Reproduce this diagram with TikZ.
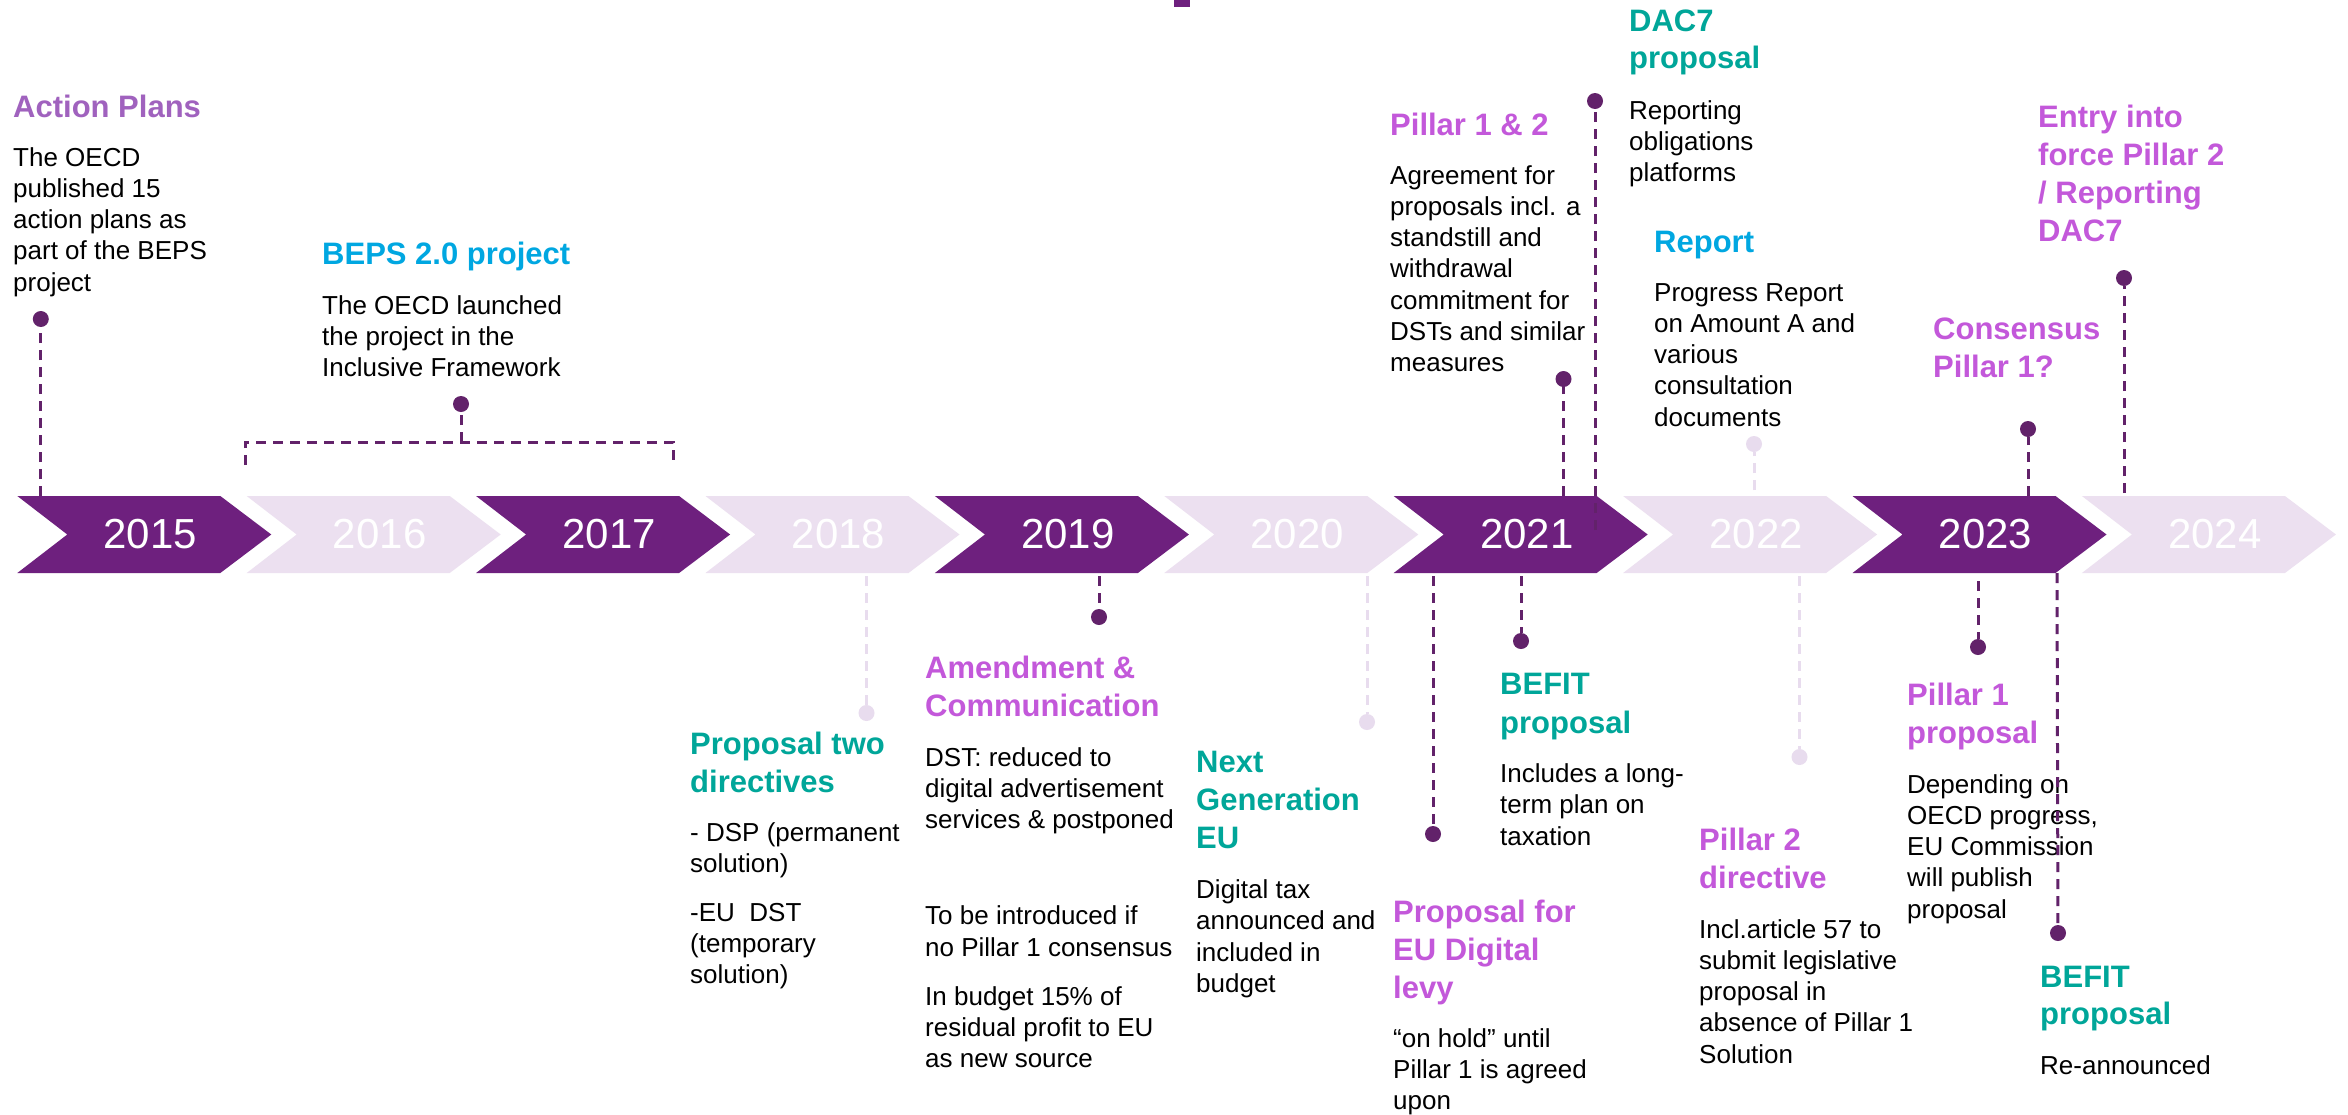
\documentclass[tikz,border=0pt]{standalone}
\usepackage{fontspec}
\setmainfont{Liberation Sans}

\definecolor{chevdark}{RGB}{110,32,126}
\definecolor{chevlight}{RGB}{236,224,240}
\definecolor{pindark}{RGB}{98,34,106}
\definecolor{pinlight}{RGB}{232,220,238}
\definecolor{hlpurple}{RGB}{195,88,218}
\definecolor{mutedpurple}{RGB}{160,98,190}
\definecolor{tealhead}{RGB}{0,166,153}
\definecolor{bluehead}{RGB}{0,167,225}

\newcommand{\headfont}{\fontsize{31}{38}\selectfont\bfseries}
\newcommand{\bodyfont}{\fontsize{26}{31.3}\selectfont}
\newcommand{\yearfont}{\fontsize{42}{48}\selectfont}
% a left-aligned stack of lines whose baseline is the first line
\newcommand{\textlines}[1]{\begin{tabular}[t]{@{}l@{}}#1\end{tabular}}

\tikzset{
  head/.style={anchor=base west, inner sep=0pt, font=\headfont},
  body/.style={anchor=base west, inner sep=0pt, font=\bodyfont, text=black},
  yearlbl/.style={inner sep=0pt, font=\yearfont, text=white},
  pindot/.style={circle, fill=pindark, inner sep=0pt, minimum size=16pt},
  pindotlight/.style={circle, fill=pinlight, inner sep=0pt, minimum size=16pt},
  dashline/.style={draw=pindark, line width=3pt, dash pattern=on 10pt off 7pt},
  dashlinelight/.style={draw=pinlight, line width=3pt, dash pattern=on 10pt off 7pt},
}

\begin{document}
\begin{tikzpicture}[x=1pt,y=-1pt]
\useasboundingbox (0,0) rectangle (2348,1114);
\fill[white] (0,0) rectangle (2348,1114);

% small mark at the top edge
\fill[chevdark] (1174,0) rectangle (1190,6.5);

% year chevrons
\foreach \i/\yr/\shade in {0/2015/chevdark,1/2016/chevlight,2/2017/chevdark,3/2018/chevlight,4/2019/chevdark,5/2020/chevlight,6/2021/chevdark,7/2022/chevlight,8/2023/chevdark,9/2024/chevlight}{
  \pgfmathsetmacro\xo{17.3+229.4*\i}
  \fill[\shade] (\xo,496) -- ++(203,0) -- ++(51,38.5) -- ++(-51,38.5) -- ++(-203,0) -- ++(50,-38.5) -- cycle;
  \node[yearlbl] (y\yr) at (\xo+133,534.5) {\yr};
}

% ---------- events above the timeline ----------
\node[head, text=mutedpurple] (hAP) at (13,117) {Action Plans};
\node[body] (bAP) at (13,166) {\textlines{The OECD\\published 15\\action plans as\\part of the BEPS\\project}};

\node[head, text=bluehead] (hBEPS) at (322,264) {BEPS 2.0 project};
\node[body] (bBEPS) at (322,314) {\textlines{The OECD launched\\the project in the\\Inclusive Framework}};

\node[head, text=hlpurple] (hP12) at (1390,135) {Pillar 1 \& 2};
\node[body] (bP12) at (1390,184) {\textlines{Agreement for\\proposals incl. a\\standstill and\\withdrawal\\commitment for\\DSTs and similar\\measures}};

\node[head, text=tealhead, font=\fontsize{31}{37}\selectfont\bfseries] (hDAC) at (1629,31.4) {\textlines{DAC7\\proposal}};
\node[body] (bDAC) at (1629,119) {\textlines{Reporting\\obligations\\platforms}};

\node[head, text=bluehead] (hRep) at (1654,252) {Report};
\node[body] (bRep) at (1654,301) {\textlines{Progress Report\\on Amount A and\\various\\consultation\\documents}};

\node[head, text=hlpurple] (hEntry) at (2038,127) {\textlines{Entry into\\force Pillar 2\\/ Reporting\\DAC7}};

\node[head, text=hlpurple] (hCons) at (1933,339) {\textlines{Consensus\\Pillar 1?}};

% ---------- events below the timeline ----------
\node[head, text=tealhead] (hDir) at (690,754) {\textlines{Proposal two\\directives}};
\node[body] (bDir) at (690,841) {\textlines{- DSP (permanent\\solution)\\[17.7pt]-EU~ DST\\(temporary\\solution)}};

\node[head, text=hlpurple] (hAm) at (925,678) {\textlines{Amendment \&\\Communication}};
\node[body] (bAm) at (925,766) {\textlines{DST: reduced to\\digital advertisement\\services \& postponed\\[65pt]To be introduced if\\no Pillar 1 consensus\\[17.7pt]In budget 15\% of\\residual profit to EU\\as new source}};

\node[head, text=tealhead] (hNG) at (1196,772) {\textlines{Next\\Generation\\EU}};
\node[body] (bNG) at (1196,898.5) {\textlines{Digital tax\\announced and\\included in\\budget}};

\node[head, text=hlpurple] (hLevy) at (1393,922) {\textlines{Proposal for\\EU Digital\\levy}};
\node[body] (bLevy) at (1393,1047) {\textlines{“on hold” until\\Pillar 1 is agreed\\upon}};

\node[head, text=tealhead, font=\fontsize{31}{39}\selectfont\bfseries] (hBF1) at (1500,694) {\textlines{BEFIT\\proposal}};
\node[body] (bBF1) at (1500,782.5) {\textlines{Includes a long-\\term plan on\\taxation}};

\node[head, text=hlpurple] (hP2) at (1699,850) {\textlines{Pillar 2\\directive}};
\node[body] (bP2) at (1699,938) {\textlines{Incl.article 57 to\\submit legislative\\proposal in\\absence of Pillar 1\\Solution}};

\node[head, text=hlpurple] (hP1) at (1907,705) {\textlines{Pillar 1\\proposal}};
\node[body] (bP1) at (1907,793) {\textlines{Depending on\\OECD progress,\\EU Commission\\will publish\\proposal}};

\node[head, text=tealhead, font=\fontsize{31}{37}\selectfont\bfseries] (hBF2) at (2040,987.5) {\textlines{BEFIT\\proposal}};
\node[body] (bBF2) at (2040,1074) {Re-announced};

% ---------- pins and connectors ----------
% above
\node[pindot] (pAP) at (40.8,319) {};
\coordinate (tAP) at (40.8,496);
\draw[dashline] (tAP) -- (pAP);

\node[pindot] (pBEPS) at (461,404) {};
\coordinate (jBEPS) at (461,442);
\coordinate (lBEPS) at (245,465);
\coordinate (rBEPS) at (673,465);
\draw[dashline] (jBEPS) -- (pBEPS);
\draw[dashline] (lBEPS) |- (jBEPS) -| (rBEPS);

\node[pindot] (pP12) at (1563.5,379) {};
\coordinate (tP12) at (1563.5,496);
\draw[dashline] (tP12) -- (pP12);

\node[pindot] (pDAC) at (1595,101) {};
\coordinate (tDAC) at (1595,530);
\draw[dashline] (tDAC) -- (pDAC);

\node[pindotlight] (pRep) at (1754,444) {};
\coordinate (tRep) at (1754,490);
\draw[dashlinelight] (tRep) -- (pRep);

\node[pindot] (pCons) at (2028,429) {};
\coordinate (tCons) at (2028,496);
\draw[dashline] (tCons) -- (pCons);

\node[pindot] (pEntry) at (2124,278) {};
\coordinate (tEntry) at (2124,493);
\draw[dashline] (tEntry) -- (pEntry);

% below
\node[pindotlight] (pDir) at (866.5,713) {};
\coordinate (tDir) at (866.5,576);
\draw[dashlinelight] (tDir) -- (pDir);

\node[pindot] (pAm) at (1099,617) {};
\coordinate (tAm) at (1099,576);
\draw[dashline] (tAm) -- (pAm);

\node[pindotlight] (pNG) at (1367,722) {};
\coordinate (tNG) at (1367,576);
\draw[dashlinelight] (tNG) -- (pNG);

\node[pindot] (pLevy) at (1433,834) {};
\coordinate (tLevy) at (1433,576);
\draw[dashline] (tLevy) -- (pLevy);

\node[pindot] (pBF1) at (1521,641) {};
\coordinate (tBF1) at (1521,576);
\draw[dashline] (tBF1) -- (pBF1);

\node[pindotlight] (pP2) at (1799.5,757) {};
\coordinate (tP2) at (1799.5,576);
\draw[dashlinelight] (tP2) -- (pP2);

\node[pindot] (pP1) at (1978,647) {};
\coordinate (tP1) at (1978,581);
\draw[dashline] (tP1) -- (pP1);

\node[pindot] (pBF2) at (2058,933) {};
\coordinate (tBF2) at (2057,573);
\draw[dashline] (tBF2) -- (pBF2);
\end{tikzpicture}
\end{document}
